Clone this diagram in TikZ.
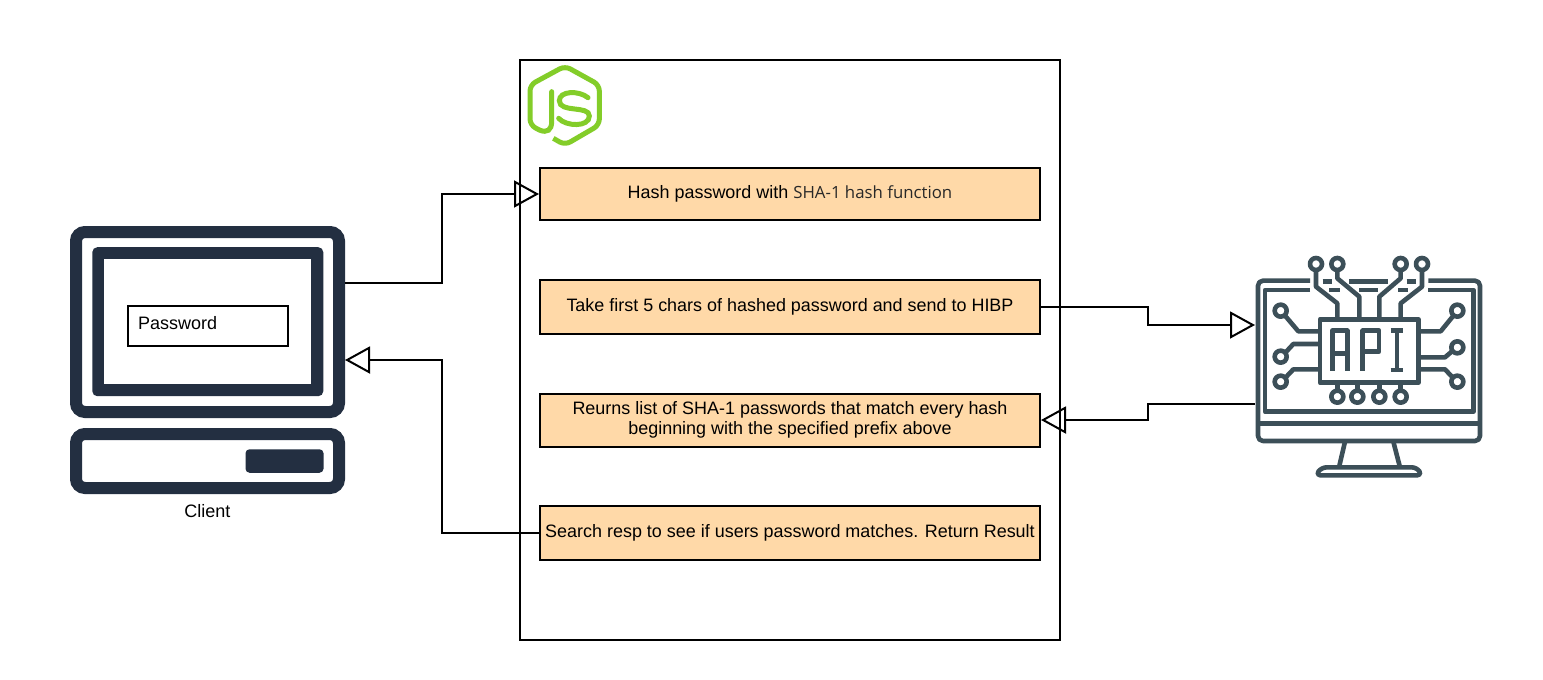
\documentclass[tikz,border=0pt]{standalone}
\usepackage{fontspec}
\setmainfont{Liberation Sans}
\newfontfamily\shafont{Open Sans}
\usetikzlibrary{arrows.meta, positioning}
\definecolor{stepfill}{RGB}{255, 217, 168}
\definecolor{clientnavy}{RGB}{35, 47, 65}
\definecolor{apislate}{RGB}{60, 79, 88}
\definecolor{nodegreen}{RGB}{131, 205, 41}
\definecolor{shagray}{RGB}{40, 40, 40}
\tikzset{
    stepbox/.style={draw=black, fill=stepfill, line width=2pt, minimum width=500pt, inner sep=0pt, align=center, font=\fontsize{17.95}{20.5}\selectfont},
    flowline/.style={draw=black, line width=2pt, -{Triangle[open, length=25pt, width=27pt, line width=2pt]}},
    clientline/.style={draw=clientnavy, line width=12pt, rounded corners=9pt},
    apiline/.style={draw=apislate, line width=4.6pt},
    apiround/.style={draw=apislate, line width=4.6pt, fill=white, circle, minimum size=12pt, inner sep=0pt},
    jsline/.style={draw=nodegreen, line width=5pt},
    plainlabel/.style={font=\fontsize{18}{20}\selectfont, inner sep=0pt}
}
\begin{document}
\begin{tikzpicture}[x=1pt, y=-1pt]
    \useasboundingbox (0,0) rectangle (1543,680);
    \fill[white] (0,0) rectangle (1543,680);
    % server
    \node[draw=black, line width=2pt, minimum width=540pt, minimum height=580pt, inner sep=0pt] (server) at (790,350) {};
    \node[stepbox, minimum height=52pt] (hash) at (790,194) {Hash password with {\fontsize{16.8}{20}\shafont\color{shagray}SHA-1 hash function}};
    \node[stepbox, minimum height=54pt] (prefix) at (790,307) {Take first 5 chars of hashed password and send to HIBP};
    \node[stepbox, minimum height=53pt] (reply) at (790,420) {Reurns list of SHA-1 passwords that match every hash\\beginning with the specified prefix above};
    \node[stepbox, minimum height=54pt] (search) at (790,533) {Search resp to see if users password matches. Return Result};
    % node logo
    \begin{scope}[shift={(510,50)}, scale=1/3]
        \draw[jsline, line join=round, rounded corners=6pt] (130,265) -- (165,285) -- (268,225) -- (268,105) -- (165,48) -- (60,105) -- (60,225) -- (88,240);
        \draw[jsline, line cap=round] (88,240) .. controls (112,250) and (125,240) .. (125,215) -- (125,125);
        \draw[jsline, line cap=round] (234,143) .. controls (205,120) and (148,123) .. (148,152) .. controls (148,190) and (238,165) .. (238,198) .. controls (238,232) and (168,230) .. (146,205);
    \end{scope}
    % client
    \node[clientline, draw, minimum width=263pt, minimum height=180pt] (client) at (207.5,322) {};
    \node[fill=clientnavy, rounded corners=5pt, minimum width=231pt, minimum height=149pt, inner sep=0pt] (screen) at (207.8,321.7) {};
    \node[fill=white, minimum width=207pt, minimum height=125pt, inner sep=0pt] (screenface) at (207.5,321.7) {};
    \node[clientline, draw, minimum width=263pt, minimum height=54pt] (tower) at (207.5,461) {};
    \node[fill=clientnavy, rounded corners=4pt, minimum width=78pt, minimum height=23.5pt, inner sep=0pt] (slot) at (284.5,461) {};
    \node[draw=black, line width=2pt, minimum width=160pt, minimum height=40pt, inner sep=0pt] (pwd) at (208,326) {};
    \node[plainlabel, anchor=west] (pwdtext) at (138,323.5) {Password};
    \node[plainlabel] (clientlabel) at (207.5,511.5) {Client};
    % api monitor
    \begin{scope}[shift={(1230,240)}, scale=1/3, line join=round]
        \draw[apiline, rounded corners=5pt] (240,122) -- (84,122) -- (84,603) -- (750,603) -- (750,122) -- (595,122);
        \draw[apiline] (240,150) -- (105,150) -- (105,515) -- (730,515) -- (730,150) -- (595,150);
        \draw[apiline] (84,550) -- (750,550);
        \draw[apiline] (345,605) -- (327,682);
        \draw[apiline] (490,605) -- (510,682);
        \draw[apiline, rounded corners=5pt] (275,682) -- (560,682) -- (577,706) -- (256,706) -- cycle;
        \draw[apiline] (278,124) -- (305,124) (358,124) -- (475,124) (530,124) -- (557,124);
        \draw[apiline] (298,150) -- (330,150) (388,150) -- (445,150) (505,150) -- (535,150);
        \draw[apiline] (258,90) -- (258,140) -- (322,190) -- (322,238);
        \draw[apiline] (322,90) -- (322,115) -- (388,170) -- (388,238);
        \draw[apiline] (512,90) -- (512,115) -- (448,170) -- (448,238);
        \draw[apiline] (576,90) -- (576,140) -- (512,190) -- (512,238);
        \draw[apiline] (155,215) -- (205,274) -- (270,274);
        \draw[apiline] (155,350) -- (190,312) -- (270,312);
        \draw[apiline] (155,425) -- (190,388) -- (270,388);
        \draw[apiline] (680,215) -- (632,274) -- (565,274);
        \draw[apiline] (680,322) -- (645,352) -- (565,352);
        \draw[apiline] (680,425) -- (645,388) -- (565,388);
        \draw[apiline] (322,428) -- (322,465) (382,428) -- (382,465) (448,428) -- (448,465) (512,428) -- (512,465);
        \draw[apiline, fill=white] (270,238) rectangle (565,428);
        \draw[apiline] (307,392) -- (307,272) -- (352,272) -- (352,392) (307,340) -- (352,340);
        \draw[apiline] (398,392) -- (398,272) -- (447,272) -- (447,335) -- (398,335);
        \draw[apiline] (482,272) -- (520,272) (501,272) -- (501,390) (482,390) -- (520,390);
        \foreach \px/\py/\pname in {258/72/a, 322/72/b, 512/72/c, 576/72/d, 152/212/e, 152/350/f, 152/425/g, 682/212/h, 682/322/i, 682/425/j, 322/470/k, 382/470/l, 448/470/m, 512/470/n}
            \node[apiround] (pin\pname) at (\px,\py) {};
    \end{scope}
    \coordinate (clientout) at (345,283);
    \coordinate (clientin) at (345,360);
    \coordinate (apiin) at (1255,325);
    \coordinate (apiout) at (1255,404);
    % flows
    \draw[flowline] (clientout) -- (442,283) -- (442,194) -- (hash.west);
    \draw[flowline] (prefix.east) -- (1148,307) -- (1148,325) -- (apiin);
    \draw[flowline] (apiout) -- (1148,404) -- (1148,420) -- (reply.east);
    \draw[flowline] (search.west) -- (442,533) -- (442,360) -- (clientin);
\end{tikzpicture}
\end{document}
